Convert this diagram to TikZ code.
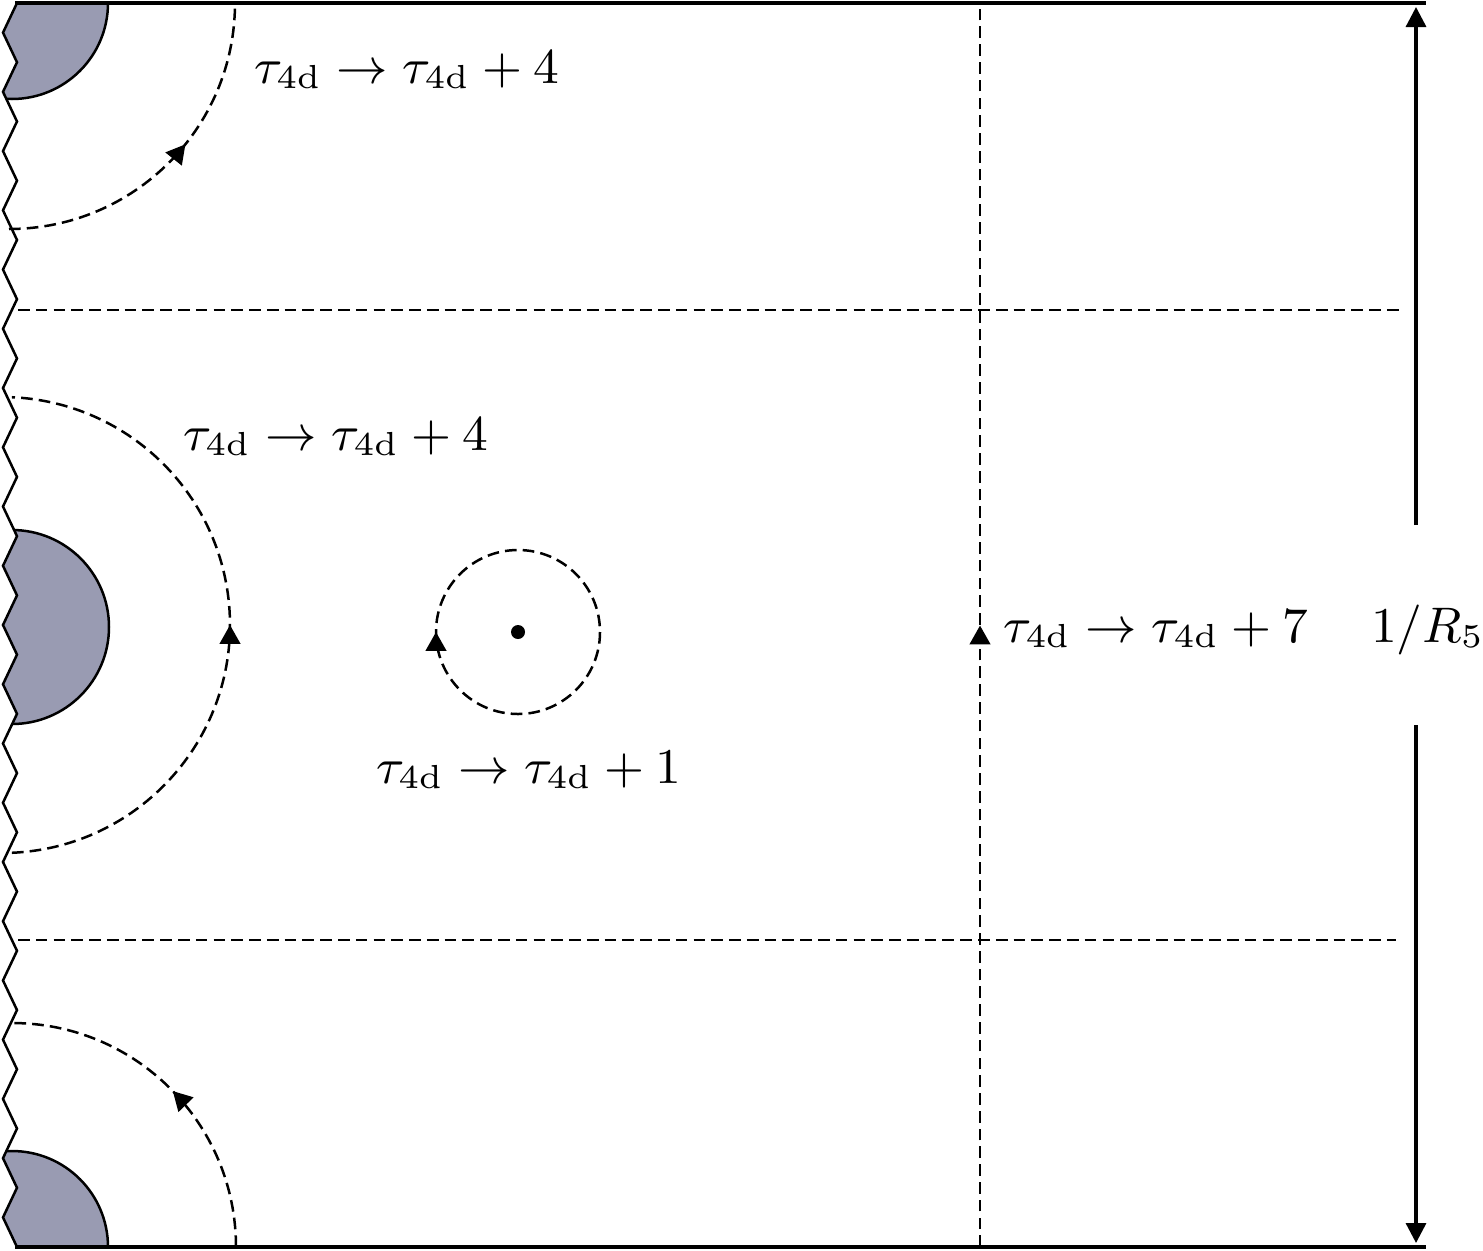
\documentclass[tikz,border=0pt]{standalone}
\usetikzlibrary{decorations.markings,arrows.meta}
\definecolor{diskfill}{RGB}{153,155,178}
\begin{document}
\begin{tikzpicture}[x=0.18pt,y=-0.18pt,
  bord/.style={line width=0.6pt},
  thinbord/.style={line width=0.45pt, line join=miter},
  dsh/.style={line width=0.45pt, dash pattern=on 2.1pt off 1.1pt},
  tipmark/.style={postaction={decorate},decoration={markings,mark=at position #1 with {\arrow{Triangle[length=3.4pt,width=3.7pt]}}}},
  lbl/.style={anchor=base west, inner sep=0pt, font=\fontsize{9.18pt}{11pt}\selectfont}
]
\useasboundingbox (0,0) rectangle (1483,1250);

% shaded disks, clipped to the right of the zigzag cut
\begin{scope}
\clip (17,3) \foreach \k in {0,...,20}{ -- (3,{3+(\k+0.5)*59.238}) -- (17,{3+(\k+1)*59.238}) } -- (400,1247) -- (400,3) -- cycle;
\filldraw[fill=diskfill, thinbord] (12,3) circle[radius=96];
\filldraw[fill=diskfill, thinbord] (12,627) circle[radius=97];
\filldraw[fill=diskfill, thinbord] (12,1247) circle[radius=96];
\end{scope}

% zigzag cut
\draw[thinbord] (17,3) \foreach \k in {0,...,20}{ -- (3,{3+(\k+0.5)*59.238}) -- (17,{3+(\k+1)*59.238}) };

% top and bottom boundaries
\draw[bord] (15,3) -- (1426,3);
\draw[bord] (15,1247) -- (1426,1247);

% dashed grid lines
\draw[dsh] (18,310) -- (1402,310);
\draw[dsh] (18,940) -- (1396,940);
\coordinate (vb) at (980,1247);
\coordinate (vt) at (980,4);
\draw[dsh, tipmark=0.5] (vb) -- (vt);

% dashed arcs around the punctures
\coordinate (c1) at (9,3);
\coordinate (c2) at (2,625);
\coordinate (c3) at (12,1247);
\coordinate (c4) at (518,632);
\draw[dsh, tipmark=0.57] (c1) ++(90:226) arc[start angle=90, end angle=0, radius=226];
\draw[dsh, tipmark=0.5] (c2) ++(87.5:228) arc[start angle=87.5, end angle=-87.5, radius=228];
\draw[dsh, tipmark=0.49] (c3) ++(0:224) arc[start angle=0, end angle=-90, radius=224];
\draw[dsh, tipmark=0.5] (c4) ++(0:82) arc[start angle=0, end angle=360, radius=82];
\fill (c4) circle[radius=7];

% labels
\node[lbl] (l1) at (253,83) {$\tau_{\mathrm{4d}}\to\tau_{\mathrm{4d}}+4$};
\node[lbl] (l2) at (182,450) {$\tau_{\mathrm{4d}}\to\tau_{\mathrm{4d}}+4$};
\node[lbl] (l3) at (375,783) {$\tau_{\mathrm{4d}}\to\tau_{\mathrm{4d}}+1$};
\node[lbl] (l4) at (1002,642) {$\tau_{\mathrm{4d}}\to\tau_{\mathrm{4d}}+7$};
\node[lbl] (l5) at (1370,642) {$1/R_5$};

% period arrow
\coordinate (ra) at (1416,525);
\coordinate (rt) at (1416,7);
\coordinate (rb) at (1416,725);
\coordinate (rbot) at (1416,1243);
\draw[bord, -{Triangle[length=3.6pt,width=3.6pt]}] (ra) -- (rt);
\draw[bord, -{Triangle[length=3.6pt,width=3.6pt]}] (rb) -- (rbot);
\end{tikzpicture}
\end{document}
